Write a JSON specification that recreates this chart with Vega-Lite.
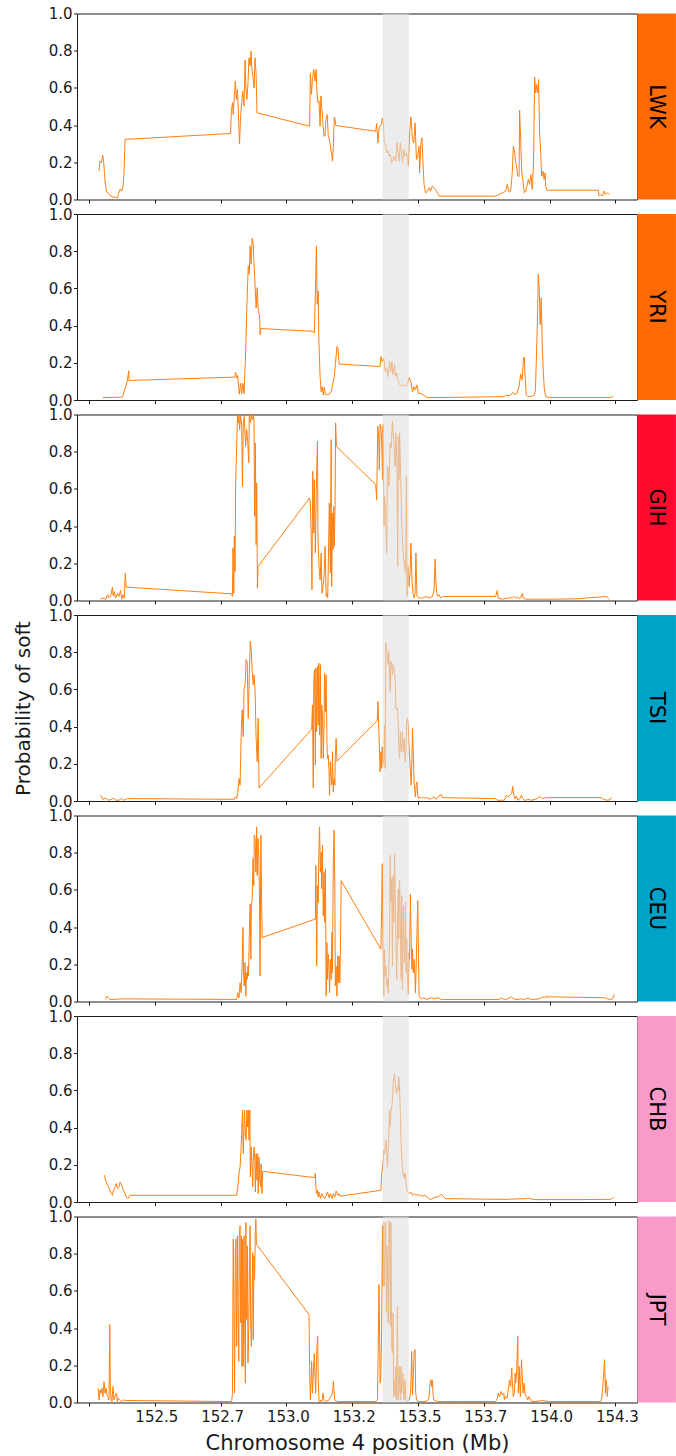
{
"$schema": "https://vega.github.io/schema/vega-lite/v6.json",
"padding": {"left": 12, "top": 5.5, "right": 0, "bottom": 0},
"background": "white",
"bounds": "flush",
"spacing": 14.5,
"config": {
  "font": "DejaVu Sans",
  "view": {"stroke": "#1a1a1a", "strokeWidth": 1},
  "axis": {"domain": false, "grid": false, "tickColor": "#1a1a1a", "labelColor": "#1a1a1a", "titleColor": "#1a1a1a", "labelFontSize": 15, "titleFontSize": 20, "titleFontWeight": "normal", "tickSize": 3.5, "labelFont": "DejaVu Sans", "titleFont": "DejaVu Sans", "labelOverlap": false, "labelFlush": false, "labelBound": false}
},
"datasets": {
"LWK": [[152.288,0.152],[152.292,0.206],[152.297,0.197],[152.302,0.237],[152.306,0.197],[152.311,0.099],[152.316,0.045],[152.326,0.027],[152.339,0.014],[152.351,0.013],[152.358,0.009],[152.364,0.039],[152.369,0.057],[152.374,0.045],[152.379,0.063],[152.383,0.143],[152.387,0.323],[152.788,0.355],[152.791,0.478],[152.795,0.52],[152.798,0.457],[152.802,0.556],[152.806,0.636],[152.81,0.538],[152.814,0.591],[152.817,0.484],[152.822,0.299],[152.826,0.448],[152.83,0.52],[152.834,0.582],[152.839,0.502],[152.843,0.749],[152.846,0.6],[152.85,0.538],[152.854,0.627],[152.858,0.762],[152.862,0.717],[152.866,0.797],[152.869,0.699],[152.873,0.659],[152.877,0.6],[152.881,0.762],[152.885,0.672],[152.888,0.466],[153.088,0.394],[153.091,0.677],[153.095,0.565],[153.099,0.645],[153.104,0.699],[153.109,0.636],[153.113,0.699],[153.116,0.573],[153.12,0.52],[153.124,0.529],[153.128,0.394],[153.131,0.556],[153.135,0.484],[153.139,0.403],[153.143,0.341],[153.147,0.341],[153.15,0.43],[153.155,0.457],[153.159,0.341],[153.163,0.323],[153.167,0.287],[153.171,0.251],[153.175,0.206],[153.178,0.278],[153.182,0.443],[153.185,0.43],[153.187,0.398],[153.339,0.367],[153.343,0.409],[153.348,0.305],[153.352,0.385],[153.36,0.403],[153.365,0.439],[153.368,0.412],[153.372,0.305],[153.377,0.287],[153.382,0.251],[153.386,0.26],[153.39,0.233],[153.395,0.242],[153.4,0.197],[153.405,0.215],[153.41,0.233],[153.415,0.206],[153.42,0.305],[153.424,0.251],[153.428,0.206],[153.433,0.305],[153.437,0.251],[153.441,0.197],[153.446,0.269],[153.451,0.233],[153.456,0.251],[153.461,0.215],[153.463,0.179],[153.468,0.358],[153.473,0.444],[153.479,0.323],[153.484,0.305],[153.489,0.412],[153.494,0.215],[153.499,0.233],[153.504,0.287],[153.506,0.143],[153.511,0.305],[153.515,0.332],[153.519,0.197],[153.523,0.081],[153.529,0.036],[153.536,0.045],[153.542,0.063],[153.548,0.045],[153.554,0.072],[153.561,0.063],[153.567,0.054],[153.574,0.036],[153.58,0.018],[153.795,0.018],[153.808,0.027],[153.82,0.036],[153.833,0.045],[153.839,0.081],[153.846,0.039],[153.852,0.045],[153.858,0.143],[153.862,0.287],[153.866,0.269],[153.87,0.215],[153.874,0.179],[153.879,0.125],[153.884,0.125],[153.886,0.48],[153.89,0.323],[153.894,0.143],[153.899,0.099],[153.904,0.036],[153.909,0.045],[153.914,0.072],[153.919,0.108],[153.924,0.081],[153.929,0.134],[153.934,0.054],[153.939,0.197],[153.943,0.659],[153.947,0.573],[153.951,0.618],[153.955,0.573],[153.958,0.645],[153.962,0.358],[153.966,0.251],[153.97,0.125],[153.975,0.152],[153.979,0.108],[153.983,0.143],[153.985,0.072],[153.989,0.05],[154.185,0.05],[154.188,0.018],[154.194,0.027],[154.2,0.018],[154.207,0.045],[154.213,0.027],[154.219,0.036],[154.226,0.029]],
"YRI": [[152.302,0.013],[152.377,0.015],[152.395,0.099],[152.401,0.157],[152.402,0.105],[152.804,0.123],[152.807,0.148],[152.811,0.117],[152.815,0.132],[152.821,0.031],[152.826,0.09],[152.83,0.034],[152.835,0.09],[152.839,0.034],[152.844,0.207],[152.85,0.514],[152.855,0.721],[152.859,0.676],[152.862,0.829],[152.866,0.73],[152.87,0.87],[152.874,0.838],[152.877,0.73],[152.881,0.613],[152.885,0.495],[152.889,0.604],[152.893,0.477],[152.898,0.459],[152.9,0.351],[152.903,0.387],[152.904,0.384],[153.103,0.369],[153.106,0.36],[153.11,0.568],[153.114,0.829],[153.117,0.514],[153.121,0.586],[153.123,0.333],[153.128,0.126],[153.132,0.045],[153.136,0.072],[153.14,0.027],[153.144,0.067],[153.148,0.031],[153.154,0.027],[153.162,0.031],[153.17,0.045],[153.175,0.081],[153.181,0.117],[153.186,0.189],[153.192,0.288],[153.196,0.279],[153.2,0.193],[153.356,0.18],[153.359,0.234],[153.364,0.207],[153.37,0.225],[153.375,0.153],[153.381,0.171],[153.386,0.126],[153.392,0.207],[153.397,0.153],[153.401,0.207],[153.405,0.135],[153.411,0.189],[153.415,0.126],[153.42,0.144],[153.425,0.099],[153.431,0.081],[153.438,0.072],[153.445,0.085],[153.452,0.072],[153.459,0.081],[153.466,0.121],[153.473,0.099],[153.479,0.045],[153.485,0.072],[153.49,0.054],[153.496,0.081],[153.501,0.036],[153.509,0.036],[153.52,0.027],[153.534,0.013],[153.561,0.013],[153.828,0.018],[153.835,0.027],[153.842,0.023],[153.852,0.027],[153.86,0.041],[153.865,0.031],[153.876,0.034],[153.885,0.081],[153.89,0.139],[153.896,0.108],[153.901,0.229],[153.904,0.229],[153.906,0.153],[153.911,0.027],[153.917,0.018],[153.931,0.02],[153.942,0.027],[153.946,0.054],[153.949,0.189],[153.953,0.387],[153.957,0.676],[153.961,0.586],[153.964,0.405],[153.968,0.55],[153.972,0.297],[153.976,0.153],[153.98,0.054],[153.986,0.018],[153.999,0.013],[154.232,0.013],[154.242,0.02]],
"GIH": [[152.294,0.007],[152.301,0.013],[152.313,0.007],[152.321,0.031],[152.326,0.013],[152.332,0.022],[152.339,0.072],[152.342,0.025],[152.346,0.048],[152.351,0.013],[152.358,0.039],[152.364,0.022],[152.37,0.054],[152.374,0.007],[152.379,0.031],[152.384,0.013],[152.388,0.147],[152.391,0.072],[152.792,0.036],[152.795,0.022],[152.797,0.282],[152.8,0.039],[152.802,0.345],[152.805,0.156],[152.807,0.614],[152.81,0.776],[152.814,0.991],[152.817,0.955],[152.82,1.0],[152.822,0.919],[152.826,0.991],[152.83,0.946],[152.833,0.614],[152.836,0.955],[152.84,0.991],[152.843,0.883],[152.845,0.829],[152.849,0.919],[152.853,0.856],[152.857,0.74],[152.859,1.0],[152.863,0.955],[152.867,0.991],[152.871,0.973],[152.874,1.0],[152.877,0.964],[152.879,0.452],[152.882,0.847],[152.885,0.3],[152.887,0.632],[152.89,0.066],[152.892,0.183],[153.088,0.551],[153.091,0.524],[153.095,0.291],[153.097,0.057],[153.1,0.695],[153.104,0.363],[153.106,0.65],[153.11,0.255],[153.114,0.632],[153.118,0.856],[153.12,0.327],[153.124,0.183],[153.128,0.111],[153.132,0.255],[153.135,0.039],[153.139,0.075],[153.143,0.129],[153.147,0.291],[153.151,0.022],[153.153,0.039],[153.157,0.013],[153.159,0.183],[153.163,0.524],[153.167,0.147],[153.17,0.865],[153.172,0.075],[153.175,0.47],[153.177,0.273],[153.18,0.506],[153.182,0.291],[153.185,0.515],[153.187,0.955],[153.19,0.829],[153.339,0.623],[153.343,0.542],[153.347,0.937],[153.351,0.865],[153.353,0.704],[153.356,0.946],[153.359,0.928],[153.362,0.865],[153.365,0.65],[153.367,0.946],[153.371,0.399],[153.373,0.56],[153.377,0.47],[153.381,0.255],[153.384,0.722],[153.386,0.704],[153.39,0.614],[153.394,0.847],[153.398,0.82],[153.403,0.964],[153.406,0.901],[153.41,0.794],[153.413,0.722],[153.416,0.901],[153.42,0.722],[153.423,0.183],[153.425,0.883],[153.428,0.65],[153.43,0.901],[153.434,0.686],[153.438,0.416],[153.442,0.291],[153.446,0.219],[153.449,0.183],[153.453,0.147],[153.456,0.668],[153.458,0.022],[153.462,0.183],[153.466,0.075],[153.47,0.156],[153.473,0.309],[153.477,0.111],[153.481,0.039],[153.485,0.013],[153.489,0.039],[153.492,0.255],[153.496,0.022],[153.504,0.013],[153.517,0.013],[153.529,0.022],[153.542,0.013],[153.555,0.022],[153.561,0.057],[153.565,0.223],[153.567,0.129],[153.57,0.057],[153.574,0.022],[153.58,0.031],[153.586,0.013],[153.593,0.022],[153.795,0.022],[153.801,0.054],[153.805,0.013],[153.82,0.007],[153.833,0.011],[153.846,0.013],[153.852,0.018],[153.858,0.011],[153.865,0.022],[153.871,0.013],[153.878,0.018],[153.884,0.011],[153.89,0.013],[153.896,0.039],[153.9,0.013],[153.909,0.007],[154.0,0.007],[154.1,0.009],[154.217,0.022],[154.221,0.013],[154.226,0.007]],
"TSI": [[152.295,0.031],[152.302,0.009],[152.313,0.016],[152.323,0.004],[152.336,0.009],[152.343,0.016],[152.35,0.005],[152.364,0.004],[152.373,0.013],[152.381,0.004],[152.391,0.009],[152.395,0.013],[152.802,0.009],[152.806,0.022],[152.811,0.013],[152.815,0.04],[152.82,0.121],[152.824,0.085],[152.828,0.346],[152.832,0.49],[152.836,0.346],[152.839,0.598],[152.843,0.625],[152.847,0.76],[152.851,0.742],[152.855,0.445],[152.859,0.679],[152.863,0.859],[152.867,0.805],[152.87,0.697],[152.874,0.625],[152.877,0.679],[152.881,0.589],[152.885,0.337],[152.889,0.211],[152.893,0.445],[152.896,0.07],[153.096,0.386],[153.099,0.517],[153.102,0.07],[153.104,0.643],[153.107,0.706],[153.11,0.193],[153.112,0.715],[153.115,0.373],[153.118,0.724],[153.121,0.409],[153.123,0.742],[153.126,0.355],[153.129,0.733],[153.132,0.229],[153.134,0.517],[153.137,0.463],[153.14,0.229],[153.143,0.409],[153.145,0.688],[153.148,0.481],[153.151,0.679],[153.154,0.319],[153.156,0.229],[153.159,0.247],[153.162,0.157],[153.164,0.031],[153.167,0.211],[153.17,0.121],[153.173,0.085],[153.175,0.265],[153.178,0.049],[153.181,0.121],[153.184,0.085],[153.186,0.247],[153.189,0.337],[153.192,0.214],[153.345,0.431],[153.348,0.535],[153.351,0.382],[153.353,0.301],[153.356,0.157],[153.359,0.265],[153.362,0.175],[153.364,0.292],[153.367,0.211],[153.37,0.193],[153.373,0.409],[153.375,0.175],[153.378,0.85],[153.381,0.805],[153.384,0.787],[153.386,0.733],[153.389,0.805],[153.392,0.679],[153.394,0.589],[153.397,0.751],[153.4,0.733],[153.403,0.679],[153.405,0.733],[153.408,0.715],[153.411,0.706],[153.414,0.625],[153.416,0.499],[153.419,0.49],[153.422,0.499],[153.425,0.409],[153.427,0.301],[153.43,0.229],[153.433,0.373],[153.436,0.265],[153.438,0.301],[153.441,0.373],[153.444,0.265],[153.447,0.337],[153.449,0.265],[153.452,0.211],[153.455,0.301],[153.457,0.427],[153.46,0.445],[153.463,0.409],[153.466,0.283],[153.468,0.247],[153.471,0.157],[153.474,0.085],[153.477,0.229],[153.479,0.391],[153.482,0.265],[153.485,0.103],[153.488,0.049],[153.49,0.022],[153.493,0.085],[153.496,0.103],[153.499,0.031],[153.501,0.013],[153.507,0.022],[153.514,0.013],[153.52,0.022],[153.527,0.013],[153.534,0.022],[153.541,0.009],[153.548,0.013],[153.555,0.016],[153.561,0.022],[153.568,0.009],[153.575,0.016],[153.582,0.031],[153.589,0.034],[153.592,0.018],[153.794,0.013],[153.801,0.004],[153.815,0.004],[153.828,0.004],[153.835,0.031],[153.842,0.022],[153.849,0.031],[153.856,0.04],[153.86,0.079],[153.864,0.031],[153.868,0.013],[153.874,0.027],[153.879,0.004],[153.887,0.013],[153.893,0.031],[153.898,0.013],[153.904,0.004],[153.911,0.005],[153.917,0.009],[153.931,0.004],[153.945,0.009],[153.952,0.013],[153.959,0.022],[153.965,0.022],[153.972,0.013],[153.979,0.016],[153.989,0.018],[154.198,0.018],[154.205,0.009],[154.219,0.004],[154.23,0.007],[154.235,0.02]],
"CEU": [[152.313,0.011],[152.318,0.029],[152.324,0.02],[152.329,0.011],[152.343,0.011],[152.37,0.014],[152.412,0.014],[152.811,0.011],[152.815,0.047],[152.82,0.02],[152.824,0.101],[152.828,0.047],[152.832,0.209],[152.835,0.398],[152.837,0.155],[152.84,0.083],[152.843,0.209],[152.846,0.029],[152.848,0.155],[152.851,0.119],[152.854,0.191],[152.856,0.137],[152.859,0.353],[152.862,0.524],[152.865,0.227],[152.867,0.533],[152.87,0.542],[152.873,0.768],[152.876,0.623],[152.878,0.894],[152.881,0.876],[152.884,0.695],[152.887,0.939],[152.889,0.677],[152.892,0.876],[152.895,0.786],[152.898,0.524],[152.9,0.137],[152.903,0.894],[152.906,0.524],[152.908,0.344],[153.11,0.443],[153.112,0.732],[153.115,0.191],[153.118,0.623],[153.121,0.533],[153.123,0.786],[153.126,0.939],[153.129,0.695],[153.132,0.804],[153.134,0.605],[153.137,0.84],[153.14,0.461],[153.143,0.695],[153.145,0.425],[153.148,0.714],[153.151,0.029],[153.154,0.317],[153.156,0.119],[153.159,0.254],[153.162,0.173],[153.164,0.047],[153.167,0.227],[153.17,0.119],[153.173,0.371],[153.175,0.155],[153.178,0.75],[153.181,0.921],[153.184,0.605],[153.186,0.083],[153.189,0.191],[153.192,0.029],[153.195,0.245],[153.197,0.101],[153.2,0.245],[153.203,0.101],[153.206,0.362],[153.208,0.65],[153.359,0.281],[153.362,0.515],[153.364,0.741],[153.367,0.335],[153.37,0.029],[153.373,0.281],[153.375,0.137],[153.378,0.191],[153.381,0.083],[153.384,0.119],[153.386,0.047],[153.389,0.155],[153.392,0.335],[153.394,0.786],[153.397,0.533],[153.4,0.659],[153.403,0.191],[153.405,0.677],[153.408,0.425],[153.411,0.795],[153.414,0.515],[153.416,0.335],[153.419,0.119],[153.422,0.371],[153.425,0.605],[153.427,0.335],[153.43,0.65],[153.433,0.425],[153.436,0.119],[153.438,0.569],[153.441,0.065],[153.444,0.515],[153.447,0.263],[153.449,0.209],[153.452,0.533],[153.455,0.155],[153.457,0.335],[153.46,0.119],[153.463,0.038],[153.466,0.263],[153.468,0.227],[153.471,0.578],[153.474,0.335],[153.477,0.173],[153.479,0.281],[153.482,0.155],[153.485,0.227],[153.488,0.137],[153.49,0.047],[153.493,0.191],[153.496,0.371],[153.499,0.542],[153.501,0.335],[153.504,0.029],[153.507,0.02],[153.514,0.014],[153.52,0.02],[153.534,0.011],[153.548,0.02],[153.561,0.014],[153.575,0.02],[153.589,0.011],[153.603,0.011],[153.808,0.011],[153.815,0.02],[153.822,0.014],[153.835,0.011],[153.849,0.02],[153.856,0.025],[153.863,0.014],[153.876,0.011],[153.89,0.014],[153.904,0.011],[153.917,0.018],[153.924,0.014],[153.931,0.011],[153.959,0.014],[153.979,0.025],[153.986,0.02],[153.991,0.032],[153.997,0.02],[154.002,0.029],[154.006,0.025],[154.212,0.02],[154.219,0.014],[154.232,0.011],[154.239,0.014],[154.246,0.038]],
"CHB": [[152.309,0.144],[152.313,0.117],[152.318,0.099],[152.324,0.081],[152.329,0.063],[152.335,0.045],[152.339,0.036],[152.343,0.063],[152.349,0.081],[152.354,0.099],[152.358,0.072],[152.364,0.081],[152.368,0.108],[152.372,0.099],[152.376,0.081],[152.381,0.063],[152.387,0.045],[152.392,0.027],[152.398,0.018],[152.405,0.036],[152.811,0.036],[152.815,0.081],[152.82,0.153],[152.824,0.189],[152.828,0.296],[152.83,0.368],[152.833,0.494],[152.836,0.26],[152.839,0.404],[152.841,0.494],[152.844,0.368],[152.847,0.332],[152.85,0.494],[152.852,0.404],[152.855,0.494],[152.858,0.332],[152.861,0.494],[152.863,0.135],[152.866,0.296],[152.869,0.206],[152.872,0.081],[152.874,0.224],[152.877,0.296],[152.88,0.224],[152.882,0.054],[152.885,0.26],[152.888,0.117],[152.891,0.26],[152.893,0.045],[152.896,0.242],[152.899,0.117],[152.902,0.081],[152.904,0.206],[152.907,0.045],[152.91,0.165],[153.107,0.131],[153.11,0.153],[153.112,0.081],[153.115,0.045],[153.118,0.063],[153.121,0.027],[153.123,0.054],[153.126,0.045],[153.129,0.018],[153.134,0.045],[153.14,0.027],[153.145,0.018],[153.151,0.036],[153.156,0.054],[153.162,0.023],[153.167,0.045],[153.173,0.018],[153.178,0.045],[153.184,0.027],[153.189,0.059],[153.195,0.036],[153.2,0.045],[153.203,0.031],[153.359,0.063],[153.362,0.153],[153.364,0.171],[153.367,0.206],[153.37,0.278],[153.373,0.26],[153.375,0.296],[153.378,0.332],[153.381,0.26],[153.384,0.189],[153.386,0.26],[153.389,0.368],[153.392,0.494],[153.394,0.404],[153.397,0.476],[153.4,0.512],[153.403,0.548],[153.405,0.619],[153.408,0.673],[153.411,0.691],[153.414,0.637],[153.416,0.601],[153.419,0.583],[153.422,0.619],[153.425,0.601],[153.427,0.673],[153.43,0.601],[153.433,0.476],[153.436,0.296],[153.438,0.242],[153.441,0.189],[153.444,0.135],[153.447,0.153],[153.449,0.126],[153.452,0.153],[153.455,0.099],[153.457,0.072],[153.46,0.054],[153.466,0.045],[153.473,0.054],[153.479,0.036],[153.486,0.045],[153.493,0.036],[153.5,0.041],[153.507,0.031],[153.514,0.036],[153.52,0.031],[153.527,0.036],[153.534,0.027],[153.541,0.018],[153.548,0.013],[153.555,0.018],[153.561,0.023],[153.568,0.027],[153.575,0.027],[153.582,0.034],[153.589,0.041],[153.596,0.031],[153.603,0.018],[153.835,0.014],[153.863,0.016],[153.911,0.018],[153.917,0.022],[153.924,0.018],[153.945,0.013],[153.972,0.013],[154.109,0.013],[154.232,0.014],[154.239,0.022],[154.243,0.023]],
"JPT": [[152.285,0.077],[152.288,0.014],[152.292,0.068],[152.296,0.05],[152.299,0.077],[152.303,0.032],[152.307,0.113],[152.311,0.05],[152.315,0.077],[152.318,0.041],[152.322,0.032],[152.326,0.014],[152.329,0.419],[152.331,0.086],[152.334,0.014],[152.337,0.005],[152.341,0.086],[152.345,0.014],[152.349,0.032],[152.354,0.05],[152.358,0.005],[152.361,0.023],[152.366,0.014],[152.374,0.005],[152.383,0.014],[152.389,0.011],[152.792,0.005],[152.795,0.05],[152.798,0.878],[152.801,0.482],[152.803,0.05],[152.806,0.806],[152.808,0.878],[152.811,0.302],[152.814,0.896],[152.816,0.554],[152.819,0.221],[152.821,0.896],[152.824,0.95],[152.826,0.428],[152.829,0.896],[152.831,0.194],[152.834,0.878],[152.836,0.194],[152.839,0.896],[152.841,0.482],[152.844,0.104],[152.846,0.968],[152.849,0.446],[152.852,0.842],[152.854,0.212],[152.857,0.41],[152.859,0.662],[152.862,0.95],[152.864,0.446],[152.867,0.302],[152.869,0.482],[152.872,0.806],[152.874,0.338],[152.877,0.788],[152.879,0.662],[152.882,0.932],[152.884,0.986],[152.886,0.851],[153.086,0.473],[153.088,0.194],[153.091,0.014],[153.093,0.086],[153.096,0.221],[153.099,0.05],[153.101,0.122],[153.104,0.212],[153.106,0.263],[153.109,0.122],[153.111,0.05],[153.114,0.194],[153.116,0.302],[153.119,0.356],[153.121,0.122],[153.124,0.005],[153.128,0.005],[153.131,0.014],[153.135,0.005],[153.139,0.05],[153.143,0.014],[153.149,0.005],[153.162,0.014],[153.175,0.05],[153.179,0.113],[153.183,0.014],[153.194,0.005],[153.238,0.005],[153.289,0.005],[153.339,0.005],[153.346,0.014],[153.352,0.635],[153.356,0.104],[153.359,0.158],[153.362,0.428],[153.365,0.95],[153.367,0.626],[153.37,0.968],[153.372,0.626],[153.375,0.842],[153.377,0.968],[153.38,0.482],[153.382,0.842],[153.385,0.626],[153.387,0.428],[153.39,0.977],[153.392,0.914],[153.395,0.41],[153.397,0.968],[153.4,0.302],[153.403,0.266],[153.405,0.482],[153.408,0.032],[153.41,0.122],[153.413,0.032],[153.415,0.194],[153.418,0.014],[153.422,0.518],[153.424,0.014],[153.428,0.194],[153.43,0.104],[153.433,0.014],[153.435,0.194],[153.438,0.05],[153.441,0.104],[153.443,0.158],[153.446,0.014],[153.448,0.032],[153.451,0.122],[153.453,0.014],[153.46,0.005],[153.466,0.014],[153.472,0.05],[153.476,0.275],[153.479,0.041],[153.481,0.104],[153.485,0.266],[153.489,0.284],[153.491,0.05],[153.495,0.014],[153.501,0.005],[153.517,0.005],[153.529,0.005],[153.539,0.014],[153.542,0.032],[153.546,0.104],[153.549,0.122],[153.552,0.086],[153.554,0.122],[153.557,0.05],[153.56,0.014],[153.565,0.011],[153.574,0.005],[153.592,0.005],[153.668,0.005],[153.795,0.005],[153.801,0.023],[153.805,0.05],[153.81,0.032],[153.815,0.059],[153.82,0.041],[153.826,0.05],[153.828,0.014],[153.833,0.032],[153.838,0.023],[153.843,0.068],[153.848,0.122],[153.852,0.086],[153.856,0.185],[153.858,0.122],[153.862,0.032],[153.866,0.05],[153.869,0.158],[153.871,0.104],[153.875,0.176],[153.879,0.356],[153.881,0.05],[153.884,0.194],[153.886,0.122],[153.889,0.032],[153.893,0.23],[153.895,0.176],[153.899,0.05],[153.903,0.104],[153.907,0.041],[153.912,0.032],[153.917,0.014],[153.922,0.032],[153.926,0.023],[153.932,0.005],[153.947,0.005],[153.972,0.011],[153.998,0.005],[154.048,0.005],[154.175,0.005],[154.194,0.005],[154.198,0.023],[154.202,0.086],[154.206,0.176],[154.209,0.23],[154.212,0.05],[154.214,0.122],[154.217,0.086],[154.219,0.032],[154.222,0.086]]
},
"vconcat": [
{"width": 560, "height": 186, "data": {"name": "LWK"},
 "layer": [
  {"mark": {"type": "line", "color": "#ff7f0e", "strokeWidth": 1},
   "encoding": {
    "x": {"field": "0", "type": "quantitative", "scale": {"domain": [152.2044, 154.332], "nice": false, "zero": false}, "axis": {"values": [152.25,152.5,152.75,153,153.25,153.5,153.75,154,154.25], "labels": false, "title": null}},
    "y": {"field": "1", "type": "quantitative", "scale": {"domain": [0, 1], "nice": false}, "axis": {"values": [0,0.2,0.4,0.6,0.8,1], "format": ".1f", "labelPadding": 1.5, "title": null}}}},
  {"data": {"values": [{}]}, "mark": {"type": "rect", "fill": "#e0e0e0", "opacity": 0.6}, "encoding": {"x": {"datum": 153.366}, "x2": {"datum": 153.465}}},
  {"data": {"values": [{}]}, "mark": {"type": "rect", "fill": "#ff6a05"}, "encoding": {"x": {"datum": 154.333}, "x2": {"datum": 154.48}}},
  {"data": {"values": [{}]}, "mark": {"type": "text", "angle": 90, "fontSize": 21, "color": "black", "align": "center", "baseline": "middle"}, "encoding": {"x": {"datum": 154.404}, "text": {"value": "LWK"}}}
 ]},
{"width": 560, "height": 186, "data": {"name": "YRI"},
 "layer": [
  {"mark": {"type": "line", "color": "#ff7f0e", "strokeWidth": 1},
   "encoding": {
    "x": {"field": "0", "type": "quantitative", "scale": {"domain": [152.2044, 154.332], "nice": false, "zero": false}, "axis": {"values": [152.25,152.5,152.75,153,153.25,153.5,153.75,154,154.25], "labels": false, "title": null}},
    "y": {"field": "1", "type": "quantitative", "scale": {"domain": [0, 1], "nice": false}, "axis": {"values": [0,0.2,0.4,0.6,0.8,1], "format": ".1f", "labelPadding": 1.5, "title": null}}}},
  {"data": {"values": [{}]}, "mark": {"type": "rect", "fill": "#e0e0e0", "opacity": 0.6}, "encoding": {"x": {"datum": 153.366}, "x2": {"datum": 153.465}}},
  {"data": {"values": [{}]}, "mark": {"type": "rect", "fill": "#ff6a05"}, "encoding": {"x": {"datum": 154.333}, "x2": {"datum": 154.48}}},
  {"data": {"values": [{}]}, "mark": {"type": "text", "angle": 90, "fontSize": 21, "color": "black", "align": "center", "baseline": "middle"}, "encoding": {"x": {"datum": 154.404}, "text": {"value": "YRI"}}}
 ]},
{"width": 560, "height": 186, "data": {"name": "GIH"},
 "layer": [
  {"mark": {"type": "line", "color": "#ff7f0e", "strokeWidth": 1},
   "encoding": {
    "x": {"field": "0", "type": "quantitative", "scale": {"domain": [152.2044, 154.332], "nice": false, "zero": false}, "axis": {"values": [152.25,152.5,152.75,153,153.25,153.5,153.75,154,154.25], "labels": false, "title": null}},
    "y": {"field": "1", "type": "quantitative", "scale": {"domain": [0, 1], "nice": false}, "axis": {"values": [0,0.2,0.4,0.6,0.8,1], "format": ".1f", "labelPadding": 1.5, "title": null}}}},
  {"data": {"values": [{}]}, "mark": {"type": "rect", "fill": "#e0e0e0", "opacity": 0.6}, "encoding": {"x": {"datum": 153.366}, "x2": {"datum": 153.465}}},
  {"data": {"values": [{}]}, "mark": {"type": "rect", "fill": "#ff0a2e"}, "encoding": {"x": {"datum": 154.333}, "x2": {"datum": 154.48}}},
  {"data": {"values": [{}]}, "mark": {"type": "text", "angle": 90, "fontSize": 21, "color": "black", "align": "center", "baseline": "middle"}, "encoding": {"x": {"datum": 154.404}, "text": {"value": "GIH"}}}
 ]},
{"width": 560, "height": 186, "data": {"name": "TSI"},
 "layer": [
  {"mark": {"type": "line", "color": "#ff7f0e", "strokeWidth": 1},
   "encoding": {
    "x": {"field": "0", "type": "quantitative", "scale": {"domain": [152.2044, 154.332], "nice": false, "zero": false}, "axis": {"values": [152.25,152.5,152.75,153,153.25,153.5,153.75,154,154.25], "labels": false, "title": null}},
    "y": {"field": "1", "type": "quantitative", "scale": {"domain": [0, 1], "nice": false}, "axis": {"values": [0,0.2,0.4,0.6,0.8,1], "format": ".1f", "labelPadding": 1.5, "title": "Probability of soft", "titlePadding": 15}}}},
  {"data": {"values": [{}]}, "mark": {"type": "rect", "fill": "#e0e0e0", "opacity": 0.6}, "encoding": {"x": {"datum": 153.366}, "x2": {"datum": 153.465}}},
  {"data": {"values": [{}]}, "mark": {"type": "rect", "fill": "#00a3c8"}, "encoding": {"x": {"datum": 154.333}, "x2": {"datum": 154.48}}},
  {"data": {"values": [{}]}, "mark": {"type": "text", "angle": 90, "fontSize": 21, "color": "black", "align": "center", "baseline": "middle"}, "encoding": {"x": {"datum": 154.404}, "text": {"value": "TSI"}}}
 ]},
{"width": 560, "height": 186, "data": {"name": "CEU"},
 "layer": [
  {"mark": {"type": "line", "color": "#ff7f0e", "strokeWidth": 1},
   "encoding": {
    "x": {"field": "0", "type": "quantitative", "scale": {"domain": [152.2044, 154.332], "nice": false, "zero": false}, "axis": {"values": [152.25,152.5,152.75,153,153.25,153.5,153.75,154,154.25], "labels": false, "title": null}},
    "y": {"field": "1", "type": "quantitative", "scale": {"domain": [0, 1], "nice": false}, "axis": {"values": [0,0.2,0.4,0.6,0.8,1], "format": ".1f", "labelPadding": 1.5, "title": null}}}},
  {"data": {"values": [{}]}, "mark": {"type": "rect", "fill": "#e0e0e0", "opacity": 0.6}, "encoding": {"x": {"datum": 153.366}, "x2": {"datum": 153.465}}},
  {"data": {"values": [{}]}, "mark": {"type": "rect", "fill": "#00a3c8"}, "encoding": {"x": {"datum": 154.333}, "x2": {"datum": 154.48}}},
  {"data": {"values": [{}]}, "mark": {"type": "text", "angle": 90, "fontSize": 21, "color": "black", "align": "center", "baseline": "middle"}, "encoding": {"x": {"datum": 154.404}, "text": {"value": "CEU"}}}
 ]},
{"width": 560, "height": 186, "data": {"name": "CHB"},
 "layer": [
  {"mark": {"type": "line", "color": "#ff7f0e", "strokeWidth": 1},
   "encoding": {
    "x": {"field": "0", "type": "quantitative", "scale": {"domain": [152.2044, 154.332], "nice": false, "zero": false}, "axis": {"values": [152.25,152.5,152.75,153,153.25,153.5,153.75,154,154.25], "labels": false, "title": null}},
    "y": {"field": "1", "type": "quantitative", "scale": {"domain": [0, 1], "nice": false}, "axis": {"values": [0,0.2,0.4,0.6,0.8,1], "format": ".1f", "labelPadding": 1.5, "title": null}}}},
  {"data": {"values": [{}]}, "mark": {"type": "rect", "fill": "#e0e0e0", "opacity": 0.6}, "encoding": {"x": {"datum": 153.366}, "x2": {"datum": 153.465}}},
  {"data": {"values": [{}]}, "mark": {"type": "rect", "fill": "#f99bc8"}, "encoding": {"x": {"datum": 154.333}, "x2": {"datum": 154.48}}},
  {"data": {"values": [{}]}, "mark": {"type": "text", "angle": 90, "fontSize": 21, "color": "black", "align": "center", "baseline": "middle"}, "encoding": {"x": {"datum": 154.404}, "text": {"value": "CHB"}}}
 ]},
{"width": 560, "height": 186, "data": {"name": "JPT"},
 "layer": [
  {"mark": {"type": "line", "color": "#ff7f0e", "strokeWidth": 1},
   "encoding": {
    "x": {"field": "0", "type": "quantitative", "scale": {"domain": [152.2044, 154.332], "nice": false, "zero": false}, "axis": {"values": [152.25,152.5,152.75,153,153.25,153.5,153.75,154,154.25], "labelExpr": "datum.value < 152.3 ? '' : datum.value < 152.6 ? '152.5' : datum.value < 152.9 ? '152.7' : datum.value < 153.1 ? '153.0' : datum.value < 153.4 ? '153.2' : datum.value < 153.6 ? '153.5' : datum.value < 153.9 ? '153.7' : datum.value < 154.1 ? '154.0' : '154.3'", "labelPadding": 3.5, "labelOffset": 1.5, "title": "Chromosome 4 position (Mb)", "titleFontSize": 21, "titlePadding": 8}},
    "y": {"field": "1", "type": "quantitative", "scale": {"domain": [0, 1], "nice": false}, "axis": {"values": [0,0.2,0.4,0.6,0.8,1], "format": ".1f", "labelPadding": 1.5, "title": null}}}},
  {"data": {"values": [{}]}, "mark": {"type": "rect", "fill": "#e0e0e0", "opacity": 0.6}, "encoding": {"x": {"datum": 153.366}, "x2": {"datum": 153.465}}},
  {"data": {"values": [{}]}, "mark": {"type": "rect", "fill": "#f99bc8"}, "encoding": {"x": {"datum": 154.333}, "x2": {"datum": 154.48}}},
  {"data": {"values": [{}]}, "mark": {"type": "text", "angle": 90, "fontSize": 21, "color": "black", "align": "center", "baseline": "middle"}, "encoding": {"x": {"datum": 154.404}, "text": {"value": "JPT"}}}
 ]}
]
}
